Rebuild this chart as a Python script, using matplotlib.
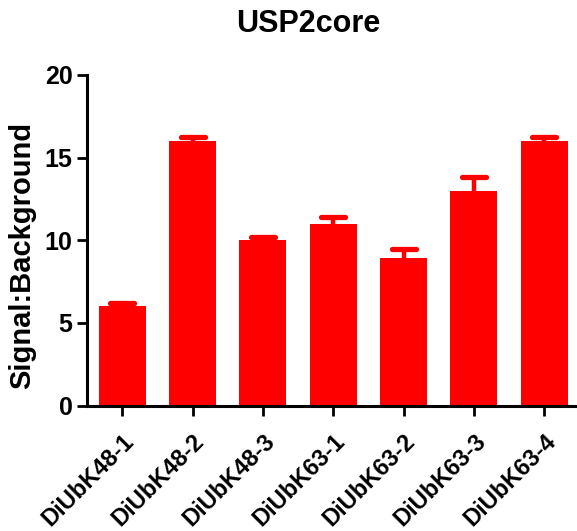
import numpy as np
import matplotlib
matplotlib.use("Agg")
import matplotlib.pyplot as plt
from matplotlib.markers import MarkerStyle
from matplotlib.transforms import ScaledTranslation

# values
samples = ["DiUbK48-1", "DiUbK48-2", "DiUbK48-3", "DiUbK63-1",
           "DiUbK63-2", "DiUbK63-3", "DiUbK63-4"]
signal = [6.0, 16.0, 10.0, 11.0, 8.95, 13.0, 16.0]
sem = [0.22, 0.22, 0.22, 0.4, 0.55, 0.8, 0.25]
y_ticks = [0, 5, 10, 15, 20]

plt.rcParams['font.family'] = ['Liberation Sans', 'DejaVu Sans']
plt.rcParams['font.weight'] = 'bold'

fig = plt.figure(figsize=(5.77, 5.31), dpi=100)
ax = fig.add_axes([0.151, 0.236, 0.853, 0.623])

x = np.arange(len(samples))
ax.bar(x, signal, width=0.67, color='#ff0000', zorder=2)
_, caps, _ = ax.errorbar(x, signal, yerr=[np.zeros(len(sem)), sem], fmt='none',
                         ecolor='#ff0000', elinewidth=3.2, capsize=8.5,
                         capthick=3.8, zorder=3)
# upper error only (Prism style): hide the cap sitting on the bar top
caps[0].set_visible(False)
caps[1].set_marker(MarkerStyle('_', capstyle='round'))

ax.set_xlim(-0.5, 6.5)
ax.set_ylim(0, 20)
ax.set_yticks(y_ticks)
ax.set_xticks(x)
ax.set_xticklabels(samples, rotation=45, ha='right', va='top',
                   rotation_mode='anchor', fontsize=17, fontweight='bold')
shift = ScaledTranslation(-0.05, 0, fig.dpi_scale_trans)
for lbl in ax.get_xticklabels():
    lbl.set_transform(lbl.get_transform() + shift)
ax.tick_params(axis='y', labelsize=18, width=2, length=7.5, pad=3)
ax.tick_params(axis='x', width=2, length=7.5, pad=10)

for side in ['top', 'right']:
    ax.spines[side].set_visible(False)
for side in ['left', 'bottom']:
    ax.spines[side].set_linewidth(2.2)

ax.set_ylabel("Signal:Background", fontsize=21, fontweight='bold')
ax.yaxis.set_label_coords(-0.104, 0.453)
fig.text(0.534, 0.955, "USP2core", ha='center', va='center',
         fontsize=22, fontweight='bold')

fig.savefig("out.png", dpi=100)
